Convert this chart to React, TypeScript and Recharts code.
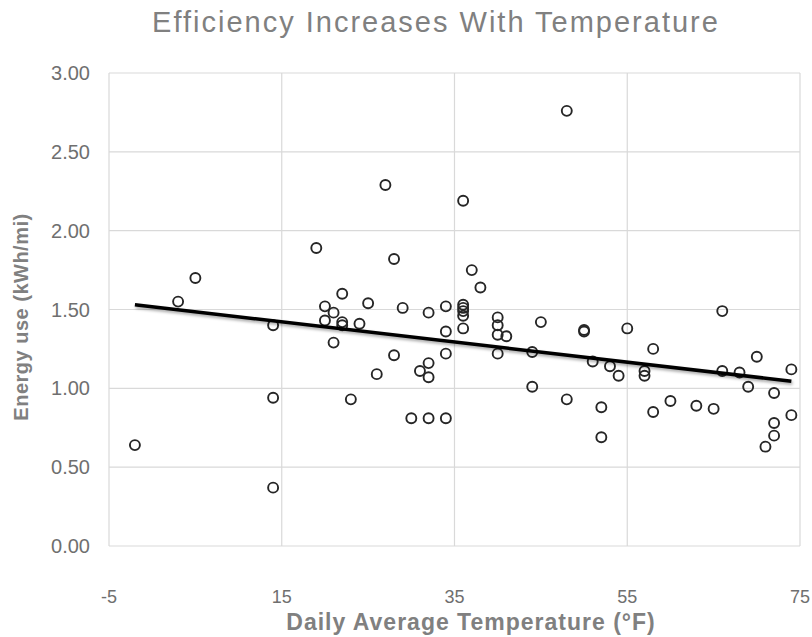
import { CartesianGrid, Scatter, ScatterChart, XAxis, YAxis } from "recharts";

// daily average temperature (°F) and energy use (kWh/mi)
const temps = [
  -2, 3, 5, 14, 14, 14, 19, 20, 20, 21, 21, 22, 22, 22, 23, 24, 25, 26, 27, 28, 28, 29, 30, 31, 32, 32, 32, 32,
  34, 34, 34, 34, 36, 36, 36, 36, 36, 36, 37, 38, 40, 40, 40, 40, 41, 44, 44, 45, 48, 48, 50, 50, 51, 52, 52,
  53, 54, 55, 57, 57, 58, 58, 60, 63, 65, 66, 66, 68, 69, 70, 71, 72, 72, 72, 74, 74,
];
const energy = [
  0.64, 1.55, 1.7, 1.4, 0.94, 0.37, 1.89, 1.52, 1.43, 1.48, 1.29, 1.6, 1.42, 1.4, 0.93, 1.41, 1.54, 1.09, 2.29,
  1.82, 1.21, 1.51, 0.81, 1.11, 1.48, 1.16, 1.07, 0.81, 1.52, 1.36, 1.22, 0.81, 2.19, 1.53, 1.51, 1.49, 1.46,
  1.38, 1.75, 1.64, 1.45, 1.4, 1.34, 1.22, 1.33, 1.23, 1.01, 1.42, 2.76, 0.93, 1.36, 1.37, 1.17, 0.88, 0.69,
  1.14, 1.08, 1.38, 1.11, 1.08, 1.25, 0.85, 0.92, 0.89, 0.87, 1.49, 1.11, 1.1, 1.01, 1.2, 0.63, 0.97, 0.78, 0.7,
  1.12, 0.83,
];

// linear trendline end points
const trendX = [-2, 74];
const trendY = [1.53, 1.045];

const xTicks = [-5, 15, 35, 55, 75];
const yTicks = [0, 0.5, 1, 1.5, 2, 2.5, 3];

const points = temps.map((x, i) => ({ x, y: energy[i] }));
const trend = trendX.map((x, i) => ({ x, y: trendY[i] }));

const FONT = "'Liberation Sans', Arial, sans-serif";
const LABEL = "#6f6f6f";
const TITLE = "#808080";

function OpenDot({ cx, cy }: any) {
  if (cx == null || cy == null) return null;
  return <circle cx={cx} cy={cy} r={5} fill="none" stroke="#262626" strokeWidth={1.9} />;
}

function XTitle() {
  return (
    <text x={471} y={630} textAnchor="middle" fontFamily={FONT} fontSize={23} fontWeight="bold" fill={TITLE} letterSpacing={1}>
      Daily Average Temperature (°F)
    </text>
  );
}

function YTitle() {
  return (
    <text
      x={0}
      y={0}
      transform="translate(28, 317) rotate(-90)"
      textAnchor="middle"
      fontFamily={FONT}
      fontSize={20}
      fontWeight="bold"
      fill={TITLE}
      letterSpacing={0.5}
    >
      Energy use (kWh/mi)
    </text>
  );
}

export default function App() {
  return (
    <div style={{ position: "absolute", left: 0, top: 0, width: 812, height: 637, background: "#fff" }}>
      <svg width={812} height={40} style={{ position: "absolute", left: 0, top: 0 }}>
        <text x={436} y={32} textAnchor="middle" fontFamily={FONT} fontSize={29} fill={TITLE} letterSpacing={2}>
          Efficiency Increases With Temperature
        </text>
      </svg>
      <ScatterChart width={812} height={637} margin={{ top: 73, right: 12, bottom: 0, left: 0 }}>
        <defs>
          <filter id="trendShadow" x="-5%" y="-50%" width="110%" height="300%">
            <feDropShadow dx="1" dy="2" stdDeviation="1.5" floodColor="#000" floodOpacity="0.35" />
          </filter>
        </defs>
        <CartesianGrid stroke="#d9d9d9" strokeWidth={1.2} />
        <XAxis
          type="number"
          dataKey="x"
          domain={[-5, 75]}
          ticks={xTicks}
          interval={0}
          height={91}
          axisLine={false}
          tickLine={false}
          tickSize={0}
          tickMargin={44}
          tick={{ fill: LABEL, fontSize: 18, fontFamily: FONT }}
          label={{ content: () => <XTitle /> }}
        />
        <YAxis
          type="number"
          dataKey="y"
          domain={[0, 3]}
          ticks={yTicks}
          interval={0}
          width={109}
          axisLine={false}
          tickLine={false}
          tickSize={0}
          tickMargin={19}
          tickFormatter={(v: number) => v.toFixed(2)}
          tick={{ fill: LABEL, fontSize: 20, fontFamily: FONT }}
          label={{ content: () => <YTitle /> }}
        />
        <Scatter data={points} shape={<OpenDot />} isAnimationActive={false} />
        <Scatter
          data={trend}
          line={{ stroke: "#000", strokeWidth: 3.5, filter: "url(#trendShadow)" }}
          shape={() => <g />}
          isAnimationActive={false}
        />
      </ScatterChart>
    </div>
  );
}
